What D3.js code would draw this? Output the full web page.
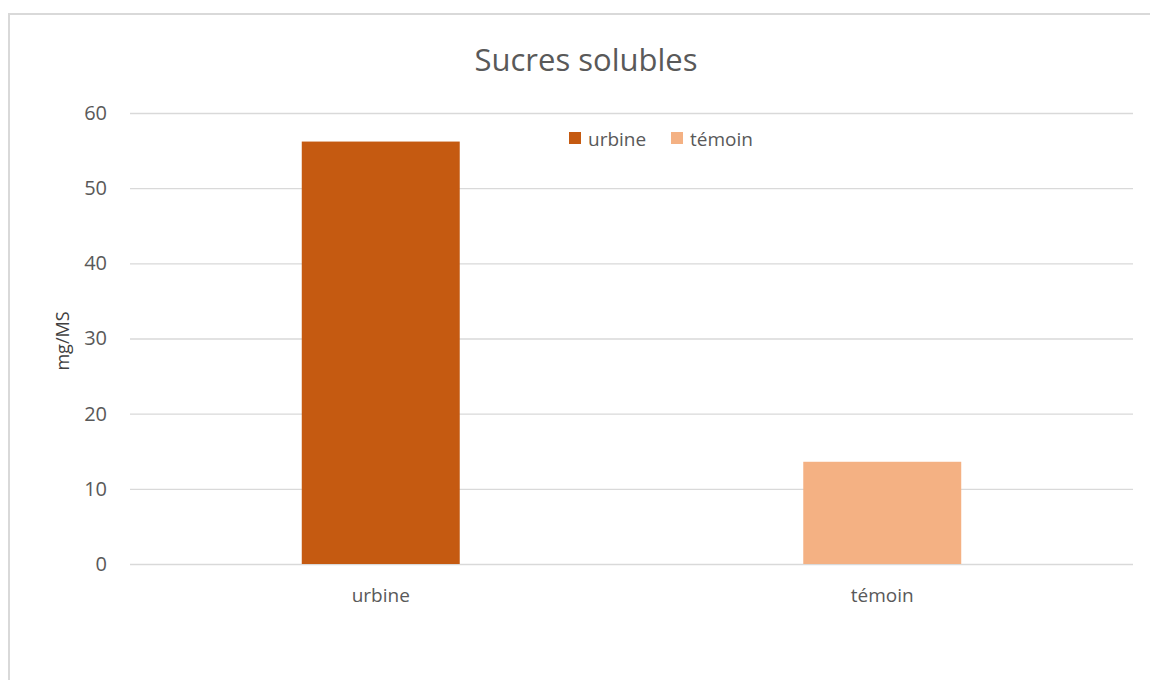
<!DOCTYPE html>
<html><head><meta charset="utf-8">
<script src="https://cdn.jsdelivr.net/npm/d3@7"></script>
<style>body{margin:0;background:#fff;} svg{display:block;}</style>
</head><body>
<svg id="c" width="1150" height="680"></svg>
<script>
const categories = ["urbine", "témoin"];
const values = [56.2, 13.6];
const colors = ["#C55A11", "#F4B183"];
const yTicks = [0, 10, 20, 30, 40, 50, 60];
const title = "Sucres solubles";
const yLabel = "mg/MS";

(function () {
const svg = d3.select("#c");
const font = "'Open Sans', sans-serif";
const grey = "#595959";

svg.append("rect").attr("x", 9).attr("y", 14).attr("width", 1160).attr("height", 700)
  .attr("fill", "#fff").attr("stroke", "#d9d9d9").attr("stroke-width", 2);

const pL = 130, pR = 1133, pT = 113, pB = 564;
const x = d3.scaleBand().domain(categories).range([pL, pR]).paddingInner(0.685).paddingOuter(0.3425);
const y = d3.scaleLinear().domain([0, 60]).range([pB, pT]);

const yAxis = d3.axisLeft(y).tickValues(yTicks).tickSize(-(pR - pL)).tickPadding(23);
const gy = svg.append("g").attr("transform", `translate(${pL},0)`).call(yAxis);
gy.select(".domain").remove();
gy.selectAll(".tick line").attr("stroke", "#d9d9d9").attr("stroke-width", 1.3);
gy.selectAll(".tick text").attr("fill", grey).style("font-family", font).style("font-size", "20px");

svg.selectAll("rect.bar").data(values).enter().append("rect").attr("class", "bar")
  .attr("x", (d, i) => x(categories[i]))
  .attr("width", x.bandwidth())
  .attr("y", d => y(d))
  .attr("height", d => y(0) - y(d))
  .attr("fill", (d, i) => colors[i]);

const xAxis = d3.axisBottom(x).tickSize(0).tickPadding(25);
const gx = svg.append("g").attr("transform", `translate(0,${pB})`).call(xAxis);
gx.select(".domain").remove();
gx.selectAll(".tick text").attr("fill", grey).style("font-family", font).style("font-size", "19px");

svg.append("text").attr("x", 586).attr("y", 71).attr("text-anchor", "middle")
  .attr("fill", grey).style("font-family", font).style("font-size", "31px").text(title);

svg.append("text").attr("transform", "translate(69,341) rotate(-90)").attr("text-anchor", "middle")
  .attr("fill", "#404040").style("font-family", font).style("font-size", "18px").text(yLabel);

const legX = [569, 671];
const lg = svg.selectAll("g.leg").data(categories).enter().append("g").attr("class", "leg")
  .attr("transform", (d, i) => `translate(${legX[i]},132)`);
lg.append("rect").attr("width", 12).attr("height", 12).attr("fill", (d, i) => colors[i]);
lg.append("text").attr("x", 19).attr("y", 14).attr("fill", grey)
  .style("font-family", font).style("font-size", "19px").text(d => d);
})();
</script>
</body></html>
